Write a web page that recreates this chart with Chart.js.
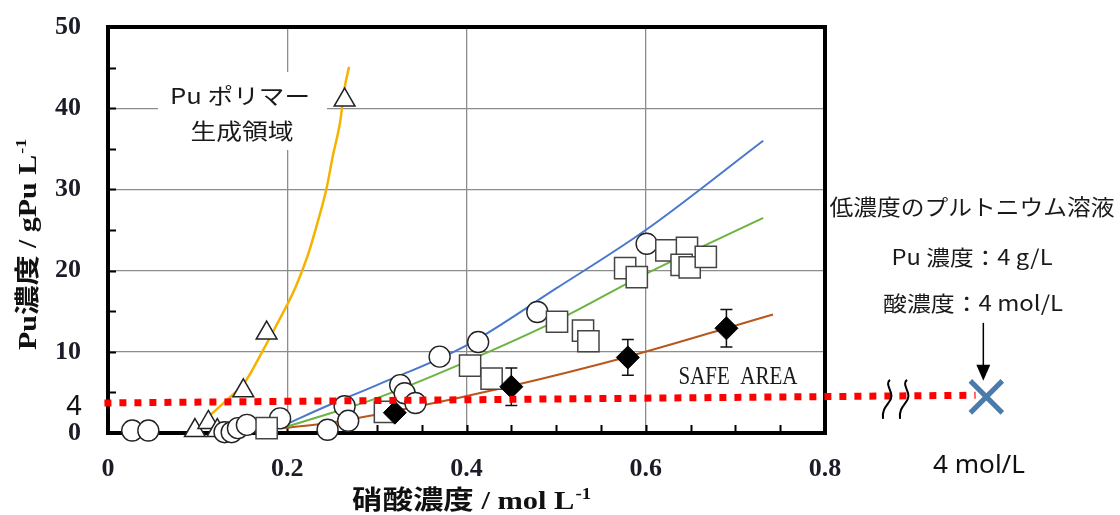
<!DOCTYPE html>
<html>
<head>
<meta charset="utf-8">
<script src="https://cdn.jsdelivr.net/npm/chart.js@4.4.1/dist/chart.umd.min.js"></script>
<style>
html,body{margin:0;padding:0;background:#fff;}
#wrap{width:1120px;height:515px;position:relative;}
</style>
</head>
<body>
<div id="wrap"><canvas id="c" width="1120" height="515"></canvas></div>
<script>
// ---- data ----
const orangeX = [0.114, 0.130, 0.153, 0.172, 0.190, 0.209, 0.223, 0.234, 0.244, 0.251, 0.259, 0.264, 0.269];
const orangeY = [2.2, 3.8, 6.3, 10.0, 13.7, 17.9, 21.9, 26.0, 30.2, 34.2, 38.3, 42.5, 45.1];

const blueX = [0.197, 0.250, 0.300, 0.400, 0.500, 0.600, 0.731];
const blueY = [1.0, 3.6, 5.9, 10.8, 17.8, 25.0, 36.0];

const greenX = [0.197, 0.250, 0.300, 0.400, 0.500, 0.600, 0.731];
const greenY = [0.7, 2.5, 4.3, 8.8, 13.8, 19.6, 26.5];

const brownX = [0.197, 0.250, 0.320, 0.450, 0.580, 0.690, 0.742];
const brownY = [0.6, 1.3, 2.7, 5.8, 9.4, 12.9, 14.6];

const triX = [0.097, 0.112, 0.122, 0.151, 0.177, 0.264];
const triY = [0.3, 1.3, 0.3, 5.2, 12.3, 41.0];

const circX = [0.027, 0.045, 0.130, 0.138, 0.145, 0.155, 0.192, 0.245, 0.264, 0.268, 0.326, 0.331, 0.343, 0.370, 0.413, 0.479, 0.601];
const circY = [0.3, 0.3, 0.1, 0.1, 0.6, 1.0, 1.8, 0.4, 3.3, 1.5, 5.9, 4.9, 3.7, 9.4, 11.2, 14.9, 23.3];

const sqX = [0.177, 0.309, 0.404, 0.428, 0.501, 0.530, 0.536, 0.577, 0.590, 0.623, 0.646, 0.640, 0.649, 0.667];
const sqY = [0.6, 2.6, 8.3, 6.7, 13.7, 12.6, 11.3, 20.3, 19.2, 22.5, 22.8, 20.7, 20.4, 21.7];

const diaX = [0.320, 0.450, 0.580, 0.690];
const diaY = [2.5, 5.7, 9.3, 12.9];
const diaErr = [0, 2.3, 2.2, 2.3];

const safeLineX = [-0.004, 0.968];
const safeLineY = [3.7, 4.65];

const lowPuX = [0.980];
const lowPuY = [4.45];

const xTicks = [0, 0.2, 0.4, 0.6, 0.8];
const yTicks = [0, 10, 20, 30, 40, 50];

const xTitle = '硝酸濃度 / mol L';
const yTitle = 'Pu濃度 / gPu L';
const polymerLabel = ['Pu ポリマー', '生成領域'];
const safeLabel = 'SAFE  AREA';
const noteLines = ['低濃度のプルトニウム溶液', 'Pu 濃度：4 g/L', '酸濃度：4 mol/L'];
const fourLabel = '4';
const fourMolLabel = '4 mol/L';

// target plot-area box (pixels)
const AREA = {left: 108, top: 27, right: 825, bottom: 433};

// ---- helpers ----
const pts = (xs, ys) => xs.map((x, i) => ({x: x, y: ys[i]}));
const CJK = '"Noto Sans CJK JP"';
const SERIF = '"Liberation Serif", "Noto Sans CJK JP"';

function txt(ctx, s, cx, cy, font, w, color) {
  ctx.save();
  ctx.font = font;
  ctx.fillStyle = color || '#1a1a1a';
  ctx.textBaseline = 'middle';
  ctx.textAlign = 'center';
  const m = ctx.measureText(s).width;
  const sx = w ? w / m : 1;
  ctx.translate(cx, cy);
  ctx.scale(sx, 1);
  ctx.fillText(s, 0, 0);
  ctx.restore();
}

function supTitle(ctx, main, sup, cx, cy, rot, total, font, supFont) {
  ctx.save();
  ctx.translate(cx, cy);
  if (rot) ctx.rotate(-Math.PI / 2);
  ctx.font = font;
  const m1 = ctx.measureText(main).width;
  ctx.font = supFont;
  const m2 = ctx.measureText(sup).width;
  const sx = total / (m1 + m2);
  ctx.scale(sx, 1);
  ctx.fillStyle = '#111';
  ctx.textBaseline = 'alphabetic';
  ctx.textAlign = 'left';
  const x0 = -(m1 + m2) / 2;
  ctx.font = font;
  ctx.fillText(main, x0, 9);
  ctx.font = supFont;
  ctx.fillText(sup, x0 + m1 + 1, -1);
  ctx.restore();
}

const decor = {
  id: 'decor',
  beforeDatasetsDraw(chart) {
    const {ctx, chartArea: a, scales: {x, y}} = chart;
    // white box behind polymer label
    ctx.save();
    ctx.fillStyle = '#fff';
    ctx.fillRect(158, 72, 169, 78);
    ctx.restore();
    txt(ctx, polymerLabel[0], 240, 96, '22px ' + CJK, 140, '#1a1a1a');
    txt(ctx, polymerLabel[1], 242, 131, '22px ' + CJK, 103, '#1a1a1a');
    // SAFE AREA
    ctx.save(); ctx.fillStyle = '#fff'; ctx.fillRect(672, 360, 132, 32); ctx.restore();
    txt(ctx, safeLabel, 738, 377, '25px "Liberation Serif"', 119, '#1a1a1a');
    // minor ticks
    ctx.save();
    ctx.strokeStyle = '#000';
    ctx.lineWidth = 2;
    ctx.beginPath();
    for (let v = 5; v < 50; v += 5) {
      const py = Math.round(y.getPixelForValue(v)) + 0.5;
      ctx.moveTo(a.left, py); ctx.lineTo(a.left + 8, py);
    }
    for (let k = 1; k < 16; k++) {
      const px = Math.round(x.getPixelForValue(k * 0.05)) + 0.5;
      ctx.moveTo(px, a.bottom); ctx.lineTo(px, a.bottom - 8);
    }
    ctx.stroke();
    // frame
    ctx.lineWidth = 4;
    ctx.strokeRect(a.left, a.top, a.right - a.left, a.bottom - a.top);
    ctx.restore();
  },
  beforeDatasetDraw(chart, args) {
    if (args.meta.label !== 'diamonds') return;
    const {ctx, scales: {x, y}} = chart;
    ctx.save();
    ctx.strokeStyle = '#111';
    ctx.lineWidth = 1.5;
    diaX.forEach((v, i) => {
      if (!diaErr[i]) return;
      const px = x.getPixelForValue(v);
      const p1 = y.getPixelForValue(diaY[i] + diaErr[i]);
      const p2 = y.getPixelForValue(diaY[i] - diaErr[i]);
      ctx.beginPath();
      ctx.moveTo(px, p1); ctx.lineTo(px, p2);
      ctx.moveTo(px - 6, p1); ctx.lineTo(px + 6, p1);
      ctx.moveTo(px - 6, p2); ctx.lineTo(px + 6, p2);
      ctx.stroke();
    });
    ctx.restore();
  },
  afterDraw(chart) {
    const {ctx, scales: {x, y}} = chart;
    // titles
    supTitle(ctx, xTitle, '-1', 471, 500, false, 238, 'bold 26px ' + SERIF, 'bold 16px "Liberation Serif"');
    supTitle(ctx, yTitle, '-1', 27, 245, true, 210, 'bold 25px ' + SERIF, 'bold 15px "Liberation Serif"');
    // "4" label at the left of the safe line
    const yl = y.getPixelForValue(safeLineY[0]);
    txt(ctx, fourLabel, 74, yl + 4, '27px "Noto Sans"', null, '#111');
    const mx = x.getPixelForValue(lowPuX[0]);
    const my = y.getPixelForValue(lowPuY[0]);
    ctx.save();
    // break marks
    ctx.strokeStyle = '#000';
    ctx.lineWidth = 2;
    [888, 905].forEach(bx => {
      ctx.beginPath();
      ctx.moveTo(bx - 5, my + 22);
      ctx.bezierCurveTo(bx - 7, my + 8, bx + 6, my + 6, bx + 3, my - 4);
      ctx.bezierCurveTo(bx + 1, my - 10, bx - 2, my - 14, bx + 2, my - 17);
      ctx.stroke();
    });
    // low-concentration Pu solution marker (X)
    ctx.strokeStyle = '#4a7bad';
    ctx.lineWidth = 5;
    ctx.lineCap = 'butt';
    const r = 16;
    ctx.beginPath();
    ctx.moveTo(mx - r, my - r); ctx.lineTo(mx + r, my + r);
    ctx.moveTo(mx + r, my - r); ctx.lineTo(mx - r, my + r);
    ctx.stroke();
    // arrow
    const ax = mx - 3;
    ctx.strokeStyle = '#000';
    ctx.beginPath();
    ctx.lineWidth = 1.5;
    ctx.moveTo(ax, my - 74); ctx.lineTo(ax, my - 30);
    ctx.stroke();
    ctx.fillStyle = '#000';
    ctx.beginPath();
    ctx.moveTo(ax - 7, my - 32); ctx.lineTo(ax + 7, my - 32); ctx.lineTo(ax, my - 16);
    ctx.closePath(); ctx.fill();
    ctx.restore();
    // note text
    txt(ctx, noteLines[0], 972, 207, '22px ' + CJK, 285, '#1a1a1a');
    txt(ctx, noteLines[1], 972, 257, '21px ' + CJK, 161, '#1a1a1a');
    txt(ctx, noteLines[2], 973, 303, '21px ' + CJK, 180, '#1a1a1a');
    txt(ctx, fourMolLabel, 979, 466, '25px "Noto Sans"', 92, '#111');
  }
};

const curve = (label, xs, ys, color, w) => ({
  label: label, data: pts(xs, ys), showLine: true, pointRadius: 0, borderColor: color,
  borderWidth: w, cubicInterpolationMode: 'monotone', fill: false, clip: false, order: 10
});

const chart = new Chart(document.getElementById('c'), {
  type: 'scatter',
  data: {
    datasets: [
      curve('orange', orangeX, orangeY, '#f5b300', 2.5),
      curve('blue', blueX, blueY, '#4a78cc', 2),
      curve('green', greenX, greenY, '#6cb340', 2),
      curve('brown', brownX, brownY, '#b9561e', 2),
      {label: 'triangles', data: pts(triX, triY), pointStyle: 'triangle', pointRadius: 12,
       backgroundColor: '#fff', borderColor: '#222', borderWidth: 1.5, clip: false, order: 9},
      {label: 'circles', data: pts(circX, circY), pointStyle: 'circle', pointRadius: 10.5,
       backgroundColor: '#fff', borderColor: '#222', borderWidth: 1.4, clip: false, order: 8},
      {label: 'squares', data: pts(sqX, sqY), pointStyle: 'rect', pointRadius: 15,
       backgroundColor: '#fff', borderColor: '#444', borderWidth: 1.5, clip: false, order: 7},
      {label: 'diamonds', data: pts(diaX, diaY), pointStyle: 'rectRot', pointRadius: 11.5,
       backgroundColor: '#000', borderColor: '#000', borderWidth: 1, clip: false, order: 6},
      {label: 'safe', data: pts(safeLineX, safeLineY), showLine: true, pointRadius: 0,
       borderColor: '#ff0000', borderWidth: 7, borderDash: [7, 8], borderCapStyle: 'butt',
       clip: false, order: 2}
    ]
  },
  options: {
    responsive: false,
    animation: false,
    devicePixelRatio: 1,
    events: [],
    layout: {padding: {left: 0, top: AREA.top, right: 1120 - AREA.right, bottom: 0}},
    plugins: {legend: {display: false}, tooltip: {enabled: false}},
    scales: {
      x: {
        type: 'linear', min: 0, max: 0.8,
        afterBuildTicks: s => { s.ticks = xTicks.map(v => ({value: v})); },
        afterFit: s => { s.height = 515 - AREA.bottom; s.paddingLeft = 0; s.paddingRight = 0; },
        ticks: {padding: 21, color: '#1c1c28', font: {family: 'Liberation Serif', size: 26, weight: 'bold'},
                callback: v => String(v), maxRotation: 0},
        grid: {color: '#8c8c8c', lineWidth: 1.3, drawTicks: false},
        border: {display: true, color: '#000', width: 4}
      },
      y: {
        type: 'linear', min: 0, max: 50,
        afterBuildTicks: s => { s.ticks = yTicks.map(v => ({value: v})); },
        afterFit: s => { s.width = AREA.left; s.paddingTop = 0; s.paddingBottom = 0; },
        ticks: {padding: 27, color: '#1c1c28', font: {family: 'Liberation Serif', size: 26, weight: 'bold'},
                callback: v => String(v)},
        grid: {color: '#8c8c8c', lineWidth: 1.3, drawTicks: false},
        border: {display: true, color: '#000', width: 4}
      }
    }
  },
  plugins: [decor]
});

// nudge layout padding so the plot area lands on the target box
for (let i = 0; i < 3; i++) {
  const ca = chart.chartArea;
  const dt = AREA.top - ca.top, dr = ca.right - AREA.right;
  if (Math.abs(dt) < 0.5 && Math.abs(dr) < 0.5) break;
  chart.options.layout.padding.top += dt;
  chart.options.layout.padding.right += dr;
  chart.update();
}
</script>
</body>
</html>
